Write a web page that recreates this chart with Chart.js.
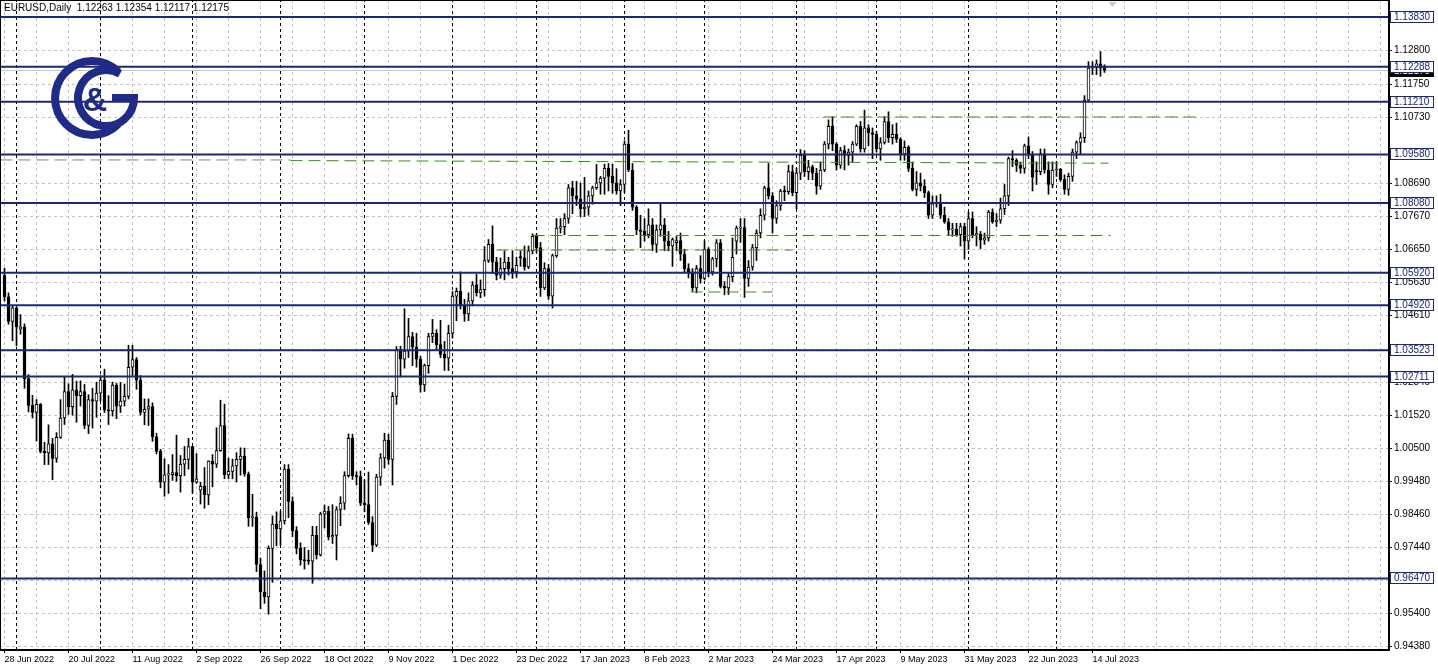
<!DOCTYPE html>
<html>
<head>
<meta charset="utf-8">
<script src="https://cdn.jsdelivr.net/npm/chart.js@4.4.1/dist/chart.umd.min.js"></script>
<style>
  html, body { margin: 0; padding: 0; background: #fff; }
  #wrap { position: relative; width: 1438px; height: 669px; overflow: hidden; }
  #title { position: absolute; left: 4px; top: 2px; font: 10px "Liberation Sans", Arial, sans-serif; color: #000; white-space: pre; }
  #logo { position: absolute; left: 45px; top: 50px; }
</style>
</head>
<body>
<div id="wrap">
  <canvas id="chart" width="1438" height="669"></canvas>
  <div id="title">EURUSD,Daily  1.12263 1.12354 1.12117 1.12175</div>
  <svg id="logo" width="100" height="100" viewBox="45 50 100 100">
    <path d="M118.2 71.8 A37 37 0 1 0 118.2 124.2" fill="none" stroke="#1f2b86" stroke-width="8"/>
    <path d="M120 73.8 A28 28 0 1 0 134 98 L112 98" fill="none" stroke="#1f2b86" stroke-width="8"/>
    <text x="95" y="111" text-anchor="middle" font-family="Liberation Sans, Arial, sans-serif" font-weight="bold" font-size="34" fill="#1f2b86">&amp;</text>
  </svg>
</div>
<script>
/* EURUSD daily candles, 28 Jun 2022 - 19 Jul 2023 (one entry per bar) */
const opens = [
  1.0584,1.0518,1.0442,1.0484,1.0418,1.0425,1.0265,1.0182,1.0160,1.0185,
  1.0040,1.0035,1.0063,1.0018,1.0083,1.0143,1.0225,1.0178,1.0230,1.0212,
  1.0225,1.0120,1.0200,1.0195,1.0220,1.0260,1.0168,1.0165,1.0245,1.0180,
  1.0195,1.0210,1.0300,1.0324,1.0260,1.0160,1.0170,1.0178,1.0085,1.0040,
  0.9945,0.9967,0.9968,0.9974,0.9965,1.0000,1.0015,1.0055,0.9945,0.9920,
  0.9932,0.9905,1.0010,1.0000,1.0042,1.0120,0.9967,0.9978,0.9995,1.0015,
  1.0025,0.9970,0.9835,0.9837,0.9690,0.9605,0.9590,0.9740,0.9815,0.9800,
  0.9825,0.9985,0.9885,0.9795,0.9740,0.9705,0.9702,0.9700,0.9780,0.9720,
  0.9846,0.9855,0.9775,0.9780,0.9860,0.9880,0.9965,1.0080,0.9965,0.9962,
  0.9880,0.9875,0.9820,0.9750,0.9960,1.0020,1.0075,1.0015,1.0210,1.0355,
  1.0325,1.0350,1.0395,1.0362,1.0325,1.0245,1.0305,1.0395,1.0405,1.0370,
  1.0340,1.0328,1.0405,1.0520,1.0535,1.0490,1.0465,1.0505,1.0555,1.0530,
  1.0540,1.0630,1.0680,1.0625,1.0585,1.0605,1.0625,1.0605,1.0595,1.0642,
  1.0638,1.0610,1.0660,1.0705,1.0670,1.0545,1.0605,1.0520,1.0645,1.0730,
  1.0735,1.0760,1.0855,1.0830,1.0820,1.0790,1.0795,1.0830,1.0855,1.0870,
  1.0885,1.0915,1.0890,1.0870,1.0845,1.0865,1.0990,1.0910,1.0795,1.0725,
  1.0720,1.0710,1.0740,1.0680,1.0725,1.0740,1.0690,1.0675,1.0685,1.0692,
  1.0650,1.0605,1.0595,1.0545,1.0605,1.0575,1.0665,1.0595,1.0635,1.0685,
  1.0550,1.0545,1.0580,1.0690,1.0730,1.0732,1.0575,1.0610,1.0670,1.0715,
  1.0770,1.0855,1.0830,1.0760,1.0800,1.0845,1.0843,1.0905,1.0840,1.0900,
  1.0955,1.0905,1.0920,1.0900,1.0860,1.0910,1.0990,1.1045,1.0990,1.0925,
  1.0970,1.0955,1.0965,1.0990,1.1045,1.0975,1.1040,1.1025,1.1020,1.0975,
  1.0995,1.1060,1.1010,1.1020,1.1005,1.0960,1.0980,1.0915,1.0850,1.0870,
  1.0860,1.0840,1.0770,1.0805,1.0810,1.0770,1.0750,1.0725,1.0727,1.0710,
  1.0735,1.0690,1.0760,1.0710,1.0712,1.0693,1.0700,1.0780,1.0750,1.0755,
  1.0790,1.0830,1.0945,1.0940,1.0925,1.0915,1.0985,1.0957,1.0908,1.0905,
  1.0960,1.0910,1.0865,1.0910,1.0912,1.0880,1.0850,1.0890,1.0965,1.0995,
  1.1010,1.1126,1.1225,1.1228,1.1238,1.12263
];
const highs = [
  1.0606,1.0530,1.0488,1.0486,1.0463,1.0434,1.0277,1.0213,1.0200,1.0188,
  1.0068,1.0122,1.0080,1.0098,1.0200,1.0270,1.0249,1.0278,1.0257,1.0258,
  1.0247,1.0215,1.0235,1.0254,1.0274,1.0294,1.0212,1.0254,1.0250,1.0253,
  1.0248,1.0368,1.0368,1.0330,1.0274,1.0202,1.0202,1.0190,1.0096,1.0046,
  1.0017,0.9999,1.0030,1.0090,1.0027,1.0055,1.0080,1.0056,1.0033,0.9944,
  0.9990,1.0011,1.0030,1.0113,1.0198,1.0186,1.0019,1.0016,1.0036,1.0051,
  1.0050,0.9976,0.9907,0.9852,0.9710,0.9670,0.9748,0.9840,0.9853,0.9854,
  0.9999,0.9999,0.9899,0.9807,0.9757,0.9743,0.9734,0.9808,0.9808,0.9852,
  0.9874,0.9870,0.9875,0.9869,0.9900,0.9977,1.0094,1.0093,0.9977,0.9979,
  0.9952,0.9976,0.9838,0.9969,1.0033,1.0096,1.0093,1.0222,1.0364,1.0365,
  1.0481,1.0451,1.0408,1.0405,1.0334,1.0310,1.0405,1.0448,1.0416,1.0445,
  1.0380,1.0430,1.0534,1.0545,1.0595,1.0510,1.0530,1.0565,1.0588,1.0570,
  1.0673,1.0695,1.0737,1.0640,1.0638,1.0660,1.0640,1.0660,1.0640,1.0660,
  1.0675,1.0675,1.0713,1.0712,1.0686,1.0623,1.0618,1.0650,1.0760,1.0760,
  1.0775,1.0865,1.0875,1.0875,1.0870,1.0887,1.0845,1.0860,1.0927,1.0890,
  1.0928,1.0930,1.0928,1.0914,1.0880,1.1000,1.1033,1.0930,1.0800,1.0770,
  1.0760,1.0790,1.0760,1.0740,1.0805,1.0760,1.0720,1.0700,1.0705,1.0715,
  1.0665,1.0620,1.0605,1.0615,1.0645,1.0691,1.0670,1.0640,1.0695,1.0695,
  1.0565,1.0590,1.0700,1.0737,1.0760,1.0760,1.0630,1.0680,1.0725,1.0790,
  1.0860,1.0930,1.0840,1.0815,1.0850,1.0860,1.0925,1.0925,1.0915,1.0973,
  1.0970,1.0940,1.0925,1.0915,1.0935,1.0998,1.1065,1.1075,1.0995,1.0980,
  1.0985,1.0975,1.0998,1.1050,1.1060,1.1095,1.1050,1.1040,1.1030,1.1010,
  1.1075,1.1090,1.1050,1.1055,1.1010,1.1000,1.0985,1.0935,1.0905,1.0900,
  1.0880,1.0845,1.0830,1.0830,1.0835,1.0795,1.0760,1.0745,1.0745,1.0745,
  1.0745,1.0780,1.0780,1.0735,1.0720,1.0715,1.0785,1.0790,1.0775,1.0823,
  1.0865,1.0950,1.0970,1.0945,1.0935,1.0990,1.1012,1.0967,1.0935,1.0975,
  1.0975,1.0935,1.0935,1.0935,1.0915,1.0895,1.0900,1.0975,1.1000,1.1025,
  1.1140,1.1245,1.1245,1.1250,1.1276,1.12354
];
const lows = [
  1.0505,1.0433,1.0382,1.0366,1.0402,1.0235,1.0162,1.0143,1.0072,1.0035,
  0.9999,0.9999,0.9952,1.0006,1.0080,1.0123,1.0154,1.0152,1.0130,1.0180,
  1.0110,1.0095,1.0112,1.0145,1.0196,1.0160,1.0123,1.0149,1.0141,1.0160,
  1.0180,1.0202,1.0275,1.0232,1.0152,1.0122,1.0120,1.0071,1.0032,0.9927,
  0.9901,0.9910,0.9950,0.9947,0.9914,0.9965,0.9985,0.9910,0.9941,0.9877,
  0.9864,0.9875,0.9930,0.9990,1.0040,0.9955,0.9955,0.9955,0.9945,0.9966,
  0.9963,0.9808,0.9808,0.9668,0.9553,0.9570,0.9536,0.9635,0.9748,0.9750,
  0.9815,0.9835,0.9776,0.9723,0.9688,0.9676,0.9690,0.9632,0.9707,0.9716,
  0.9803,0.9766,0.9755,0.9704,0.9810,0.9860,0.9960,0.9953,0.9936,0.9872,
  0.9853,0.9814,0.9730,0.9745,0.9935,0.9988,1.0000,0.9936,1.0185,1.0270,
  1.0297,1.0330,1.0305,1.0300,1.0223,1.0225,1.0281,1.0376,1.0355,1.0330,
  1.0290,1.0290,1.0390,1.0444,1.0480,1.0442,1.0444,1.0490,1.0520,1.0515,
  1.0520,1.0624,1.0590,1.0570,1.0575,1.0570,1.0585,1.0575,1.0578,1.0612,
  1.0600,1.0605,1.0650,1.0655,1.0519,1.0540,1.0510,1.0483,1.0640,1.0715,
  1.0710,1.0745,1.0775,1.0800,1.0765,1.0766,1.0770,1.0804,1.0850,1.0835,
  1.0835,1.0845,1.0838,1.0835,1.0800,1.0840,1.0905,1.0785,1.0710,1.0670,
  1.0690,1.0700,1.0660,1.0655,1.0705,1.0660,1.0660,1.0612,1.0660,1.0630,
  1.0595,1.0576,1.0535,1.0530,1.0560,1.0570,1.0580,1.0585,1.0610,1.0545,
  1.0524,1.0525,1.0565,1.0650,1.0686,1.0516,1.0550,1.0600,1.0630,1.0700,
  1.0755,1.0820,1.0715,1.0745,1.0785,1.0815,1.0835,1.0830,1.0790,1.0880,
  1.0890,1.0880,1.0880,1.0835,1.0850,1.0905,1.0975,1.0970,1.0910,1.0915,
  1.0910,1.0925,1.0935,1.0985,1.0965,1.0965,1.0985,1.0945,1.0965,1.0940,
  1.0990,1.0995,1.0990,1.0995,1.0940,1.0940,1.0905,1.0845,1.0830,1.0845,
  1.0825,1.0760,1.0760,1.0795,1.0760,1.0745,1.0710,1.0705,1.0705,1.0675,
  1.0635,1.0665,1.0700,1.0675,1.0667,1.0680,1.0690,1.0745,1.0735,1.0745,
  1.0772,1.0800,1.0920,1.0905,1.0900,1.0900,1.0945,1.0845,1.0865,1.0895,
  1.0900,1.0835,1.0855,1.0890,1.0875,1.0835,1.0832,1.0875,1.0945,1.0960,
  1.0995,1.1120,1.1205,1.1205,1.1200,1.12117
];
const closes = [
  1.0518,1.0442,1.0484,1.0425,1.0425,1.0265,1.0182,1.0160,1.0185,1.0040,
  1.0035,1.0063,1.0018,1.0083,1.0143,1.0225,1.0178,1.0230,1.0212,1.0225,
  1.0120,1.0200,1.0195,1.0220,1.0260,1.0168,1.0165,1.0245,1.0180,1.0195,
  1.0210,1.0300,1.0324,1.0260,1.0160,1.0170,1.0178,1.0085,1.0040,0.9945,
  0.9967,0.9968,0.9974,0.9965,1.0000,1.0015,1.0055,0.9945,0.9955,0.9932,
  0.9905,1.0010,1.0000,1.0042,1.0120,0.9967,0.9978,0.9995,1.0015,1.0025,
  0.9970,0.9835,0.9837,0.9690,0.9605,0.9590,0.9740,0.9815,0.9800,0.9825,
  0.9985,0.9885,0.9795,0.9740,0.9705,0.9702,0.9700,0.9780,0.9720,0.9846,
  0.9855,0.9775,0.9780,0.9860,0.9880,0.9965,1.0080,0.9965,0.9962,0.9880,
  0.9875,0.9820,0.9750,0.9960,1.0020,1.0075,1.0015,1.0210,1.0355,1.0325,
  1.0350,1.0395,1.0362,1.0325,1.0245,1.0305,1.0395,1.0405,1.0370,1.0340,
  1.0328,1.0405,1.0520,1.0535,1.0490,1.0465,1.0505,1.0555,1.0530,1.0540,
  1.0630,1.0680,1.0625,1.0585,1.0605,1.0625,1.0605,1.0595,1.0615,1.0638,
  1.0610,1.0660,1.0705,1.0670,1.0545,1.0605,1.0520,1.0645,1.0730,1.0735,
  1.0760,1.0855,1.0830,1.0820,1.0790,1.0795,1.0830,1.0855,1.0870,1.0885,
  1.0915,1.0890,1.0870,1.0845,1.0865,1.0990,1.0910,1.0795,1.0725,1.0720,
  1.0710,1.0740,1.0680,1.0725,1.0740,1.0690,1.0675,1.0695,1.0692,1.0650,
  1.0605,1.0595,1.0545,1.0605,1.0575,1.0665,1.0595,1.0635,1.0685,1.0550,
  1.0545,1.0580,1.0640,1.0730,1.0732,1.0575,1.0610,1.0670,1.0715,1.0770,
  1.0855,1.0830,1.0760,1.0800,1.0845,1.0843,1.0905,1.0840,1.0900,1.0955,
  1.0905,1.0920,1.0900,1.0860,1.0910,1.0990,1.1045,1.0990,1.0925,1.0970,
  1.0955,1.0965,1.0990,1.1045,1.0975,1.1040,1.1025,1.1020,1.0975,1.0995,
  1.1060,1.1010,1.1020,1.1005,1.0960,1.0980,1.0915,1.0850,1.0870,1.0860,
  1.0840,1.0770,1.0805,1.0810,1.0770,1.0750,1.0725,1.0727,1.0710,1.0735,
  1.0690,1.0760,1.0710,1.0712,1.0693,1.0700,1.0780,1.0750,1.0755,1.0790,
  1.0830,1.0945,1.0940,1.0925,1.0915,1.0985,1.0957,1.0888,1.0905,1.0960,
  1.0910,1.0865,1.0910,1.0912,1.0880,1.0850,1.0890,1.0965,1.0995,1.1010,
  1.1126,1.1225,1.1228,1.1238,1.1225,1.12175
];

// bar index of each labelled date on the time axis
const dateTickIdx = [0, 16, 32, 48, 64, 80, 96, 112, 128, 144, 160, 176, 192, 208, 224, 240, 256, 272];
const dateTickLabels = ['28 Jun 2022', '20 Jul 2022', '11 Aug 2022', '2 Sep 2022', '26 Sep 2022', '18 Oct 2022',
  '9 Nov 2022', '1 Dec 2022', '23 Dec 2022', '17 Jan 2023', '8 Feb 2023', '2 Mar 2023', '24 Mar 2023',
  '17 Apr 2023', '9 May 2023', '31 May 2023', '22 Jun 2023', '14 Jul 2023'];
// bar index of the first bar of each month (period separators)
const monthStarts = [3, 24, 47, 69, 90, 112, 133, 155, 175, 198, 218, 241, 263];

const priceTicks = [0.94380, 0.95400, 0.96420, 0.97440, 0.98460, 0.99480, 1.00500, 1.01520, 1.02540, 1.03560,
  1.04610, 1.05630, 1.06650, 1.07670, 1.08690, 1.10730, 1.11750, 1.12800, 1.13830];
const levels = [1.13830, 1.12288, 1.11210, 1.09580, 1.08080, 1.05920, 1.04920, 1.03523, 1.02711, 0.96470];
const bidPrice = 1.12175;

// dashed trend lines: [bar from, price from, bar to, price to]
const greenLines = [
  [71.5, 1.0939, 276, 1.0931],
  [204.75, 1.10738, 299, 1.10738],
  [132, 1.07074, 276.5, 1.07074],
  [123, 1.06625, 197, 1.06625],
  [171.5, 1.05327, 192, 1.05327]
];
const grayLines = [
  [-1, 1.0941, 71.5, 1.0941]
];

const X_MIN = -1.125, X_MAX = 346.125;
const Y_MIN = 0.942568, Y_MAX = 1.143557;

const NAVY = '#1c2776';
const GREEN = '#3f8a1c';
const GRID = '#c4c4c4';
const FONT = '"Liberation Sans", Arial, sans-serif';

Chart.defaults.font.family = FONT;
Chart.defaults.font.size = 10;
Chart.defaults.color = '#000';

function seg(x1, y1, x2, y2) { return [{ x: x1, y: y1 }, { x: x2, y: y2 }]; }

function lineSet(data, color, width, dash, order) {
  return {
    type: 'line', data: data, borderColor: color, borderWidth: width, borderDash: dash,
    borderCapStyle: 'butt', pointRadius: 0, fill: false, tension: 0, order: order
  };
}

const datasets = [];

levels.forEach(function (v) { datasets.push(lineSet(seg(X_MIN, v, X_MAX, v), NAVY, 2, [], 0)); });
greenLines.forEach(function (l) { datasets.push(lineSet(seg(l[0], l[1], l[2], l[3]), GREEN, 1, [12, 6], 1)); });
grayLines.forEach(function (l) { datasets.push(lineSet(seg(l[0], l[1], l[2], l[3]), '#808080', 1, [12, 6], 1)); });

datasets.push({
  type: 'bar',
  data: closes.map(function (c, i) { return { x: i, y: [opens[i], c] }; }),
  backgroundColor: closes.map(function (c, i) { return c >= opens[i] ? '#ffffff' : '#000000'; }),
  borderColor: '#000', borderWidth: 1, borderSkipped: false,
  barThickness: 3, minBarLength: 1, grouped: false, order: 2
});
datasets.push({
  type: 'bar',
  data: closes.map(function (c, i) { return { x: i, y: [lows[i], highs[i]] }; }),
  backgroundColor: '#000', borderWidth: 0,
  barThickness: 1, grouped: false, order: 3
});

monthStarts.forEach(function (m) { datasets.push(lineSet(seg(m, Y_MIN, m, Y_MAX), '#000', 1, [3, 3], 4)); });
datasets.push(lineSet(seg(X_MIN, bidPrice, X_MAX, bidPrice), '#c8c8c8', 1, [], 5));

const frame = {
  id: 'frame',
  afterDraw: function (chart) {
    const ctx = chart.ctx, a = chart.chartArea, y = chart.scales.y, x = chart.scales.x;
    ctx.save();
    ctx.strokeStyle = '#000';
    ctx.lineWidth = 1;
    ctx.strokeRect(a.left + 0.5, a.top + 0.5, a.right - a.left - 1, a.bottom - a.top - 1);

    // chart shift marker
    const tx = x.getPixelForValue(closes.length + 1);
    ctx.fillStyle = '#c8c8c8';
    ctx.beginPath();
    ctx.moveTo(tx - 4, 2); ctx.lineTo(tx + 4, 2); ctx.lineTo(tx, 7); ctx.closePath();
    ctx.fill();

    ctx.font = '10px ' + FONT;
    ctx.textBaseline = 'middle';
    function box(v, fill, stroke, text) {
      const py = Math.round(y.getPixelForValue(v));
      ctx.fillStyle = fill;
      ctx.fillRect(a.right + 1, py - 6, 44, 12);
      ctx.strokeStyle = stroke;
      ctx.strokeRect(a.right + 1.5, py - 5.5, 43, 11);
      ctx.fillStyle = text;
      ctx.fillText(v.toFixed(5), a.right + 5, py + 0.5);
    }
    box(bidPrice, '#000', '#000', '#fff');
    levels.forEach(function (v) { box(v, '#fff', NAVY, NAVY); });
    ctx.restore();
  }
};

new Chart(document.getElementById('chart'), {
  type: 'bar',
  data: { datasets: datasets },
  options: {
    responsive: false,
    animation: false,
    events: [],
    layout: { padding: 0 },
    plugins: { legend: { display: false }, tooltip: { enabled: false } },
    scales: {
      x: {
        type: 'linear', min: X_MIN, max: X_MAX, offset: false, bounds: 'data',
        afterBuildTicks: function (s) {
          const t = [];
          for (let v = 0; v <= X_MAX; v += 8) t.push({ value: v });
          s.ticks = t;
        },
        afterFit: function (s) { s.height = 19; s.paddingLeft = 0; s.paddingRight = 0; },
        grid: {
          color: GRID, offset: false, drawTicks: true, tickLength: 3,
          tickColor: function (c) { return dateTickIdx.indexOf(c.tick && c.tick.value) >= 0 ? '#000' : 'rgba(0,0,0,0)'; }
        },
        border: { display: true, color: '#000', width: 1, dash: [3, 3] },
        ticks: {
          autoSkip: false, maxRotation: 0, align: 'start', padding: 1, font: { size: 9 },
          callback: function (v) { const k = dateTickIdx.indexOf(v); return k >= 0 ? dateTickLabels[k] : ''; }
        }
      },
      y: {
        type: 'linear', position: 'right', min: Y_MIN, max: Y_MAX, bounds: 'data',
        afterBuildTicks: function (s) { s.ticks = priceTicks.map(function (v) { return { value: v }; }); },
        afterFit: function (s) { s.width = 49; s.paddingTop = 0; s.paddingBottom = 0; },
        grid: { color: GRID, drawTicks: true, tickLength: 3, tickColor: '#000' },
        border: { display: true, color: '#000', width: 1, dash: [3, 3] },
        ticks: {
          autoSkip: false, padding: 2, font: { size: 10 },
          callback: function (v) { return v.toFixed(5); }
        }
      }
    }
  },
  plugins: [frame]
});
</script>
</body>
</html>
